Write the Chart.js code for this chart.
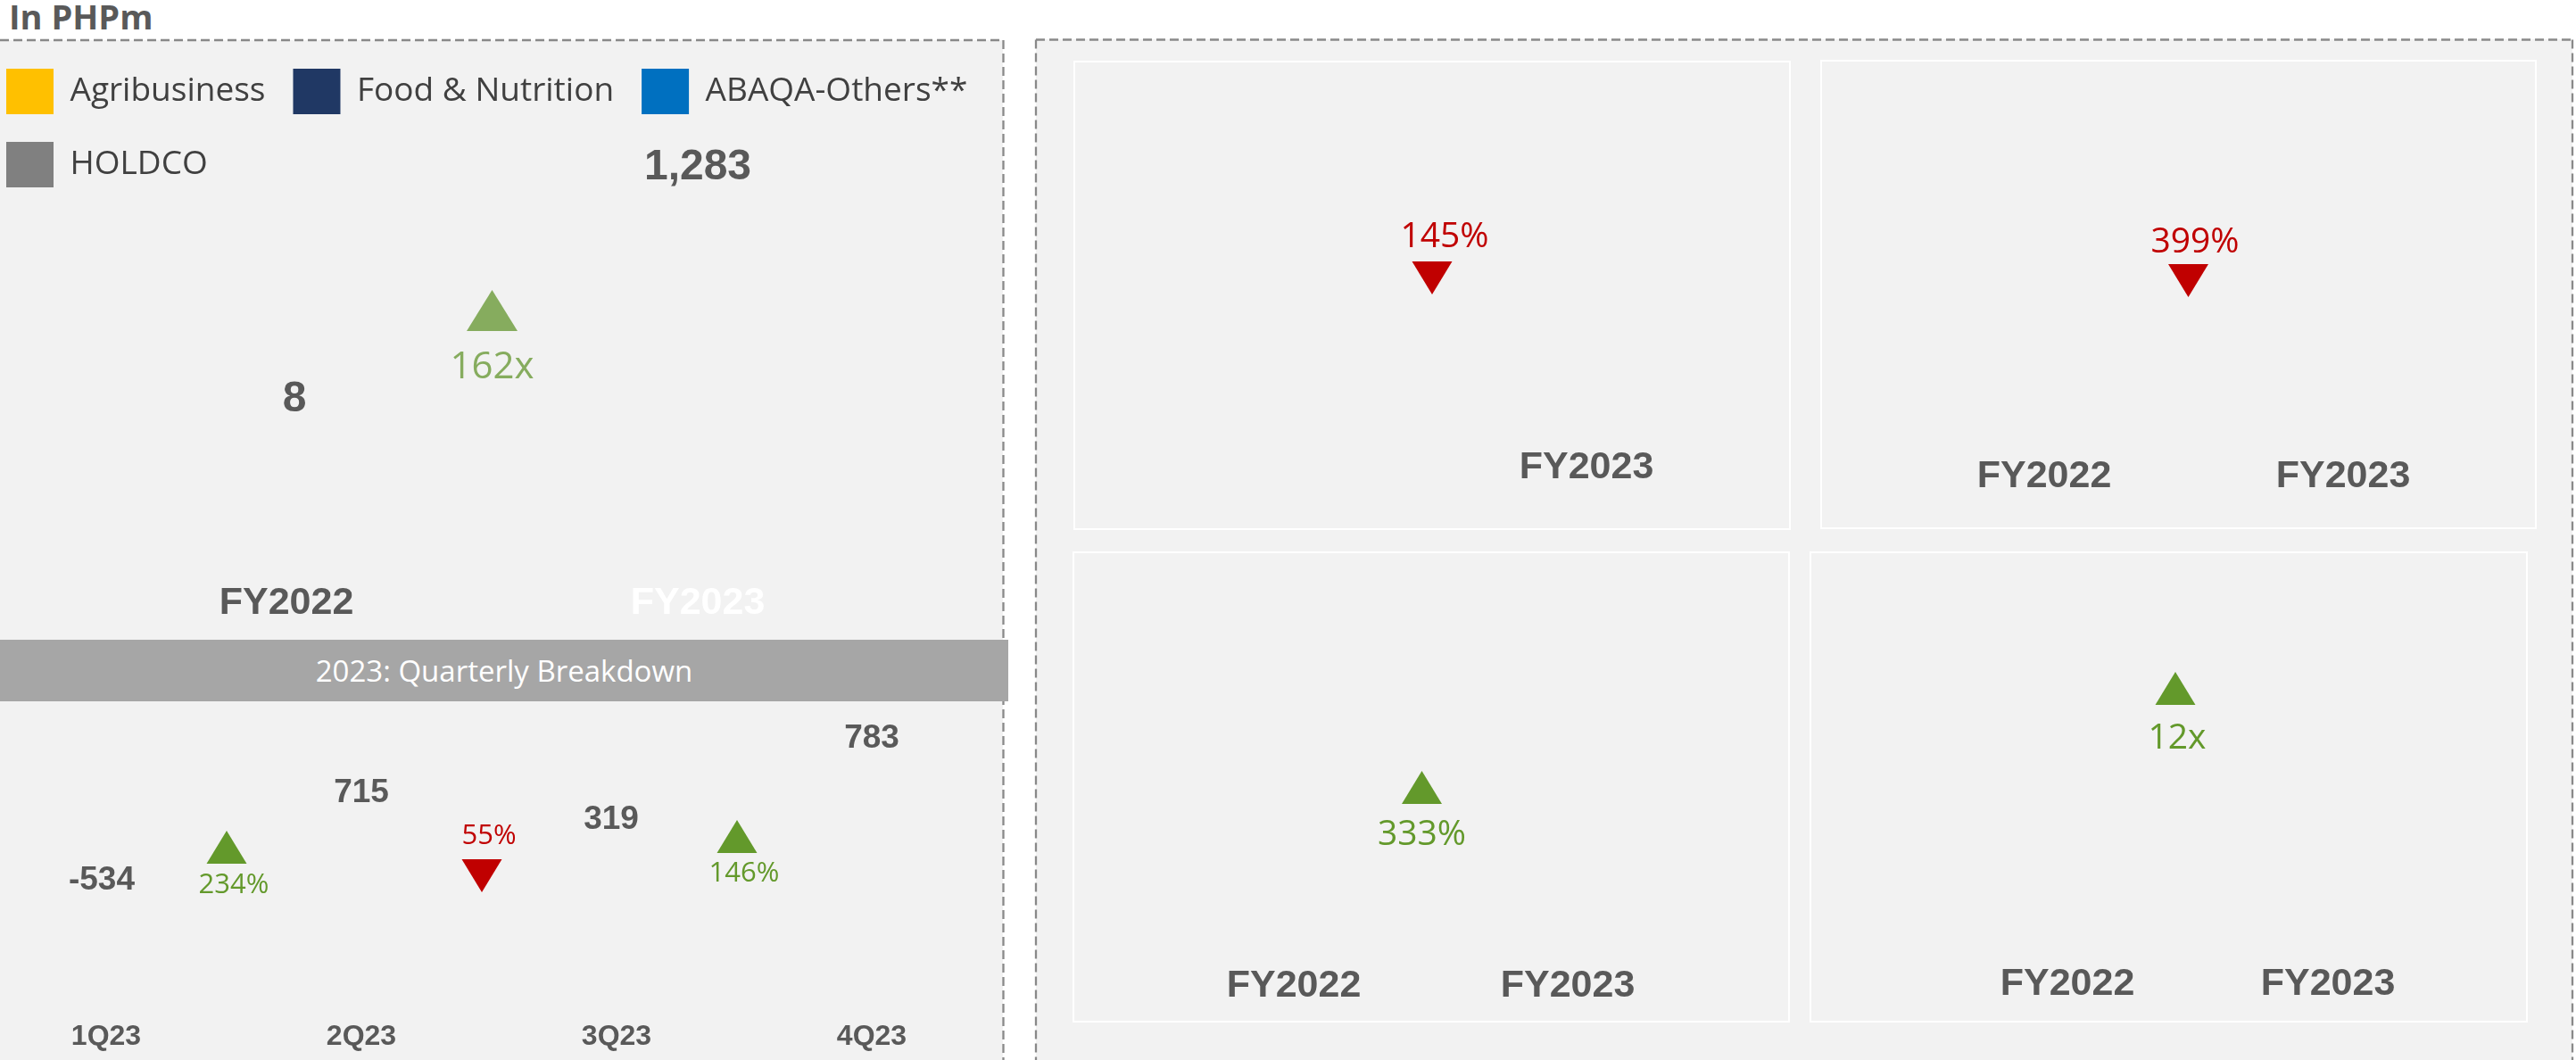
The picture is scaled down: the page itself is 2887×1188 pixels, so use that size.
<!DOCTYPE html>
<html>
<head>
<meta charset="utf-8">
<script src="https://cdn.jsdelivr.net/npm/chart.js@4.4.1/dist/chart.umd.min.js"></script>
<style>
  html, body { margin: 0; padding: 0; background: #ffffff; }
  body { width: 2887px; height: 1188px; position: relative; overflow: hidden; }
  .abs { position: absolute; }
  .fill { background: #f2f2f2; }
  .panel { position: absolute; outline: 2px solid #ffffff; outline-offset: -2px; }
  .title { left: 10px; top: -1px; font: bold 38px 'Open Sans', sans-serif; line-height: 38px; color: #595959; }
  .band { left: 0; top: 717px; width: 1130px; height: 69px; background: #a6a6a6; color: #ffffff;
          font: 33px 'Open Sans', sans-serif; display: flex; align-items: center; justify-content: center; }
</style>
</head>
<body>
<div class="abs title">In PHPm</div>
<div class="abs fill" style="left:0;top:45px;width:1124px;height:1143px"></div>
<div class="abs fill" style="left:1161px;top:44px;width:1722px;height:1144px"></div>
<svg class="abs" style="left:0;top:0" width="2887" height="1188">
  <g stroke="#898989" stroke-width="2.3" stroke-dasharray="10 5" fill="none">
    <line x1="0" y1="45" x2="1124.5" y2="45"/>
    <line x1="1124.5" y1="45" x2="1124.5" y2="1188"/>
    <line x1="1161" y1="44.5" x2="2883" y2="44.5"/>
    <line x1="1161" y1="44.5" x2="1161" y2="1188"/>
    <line x1="2883" y1="44.5" x2="2883" y2="1188"/>
  </g>
</svg>
<div class="abs band">2023: Quarterly Breakdown</div>
<div class="abs" style="left:-24px;top:46px;width:1174px;height:670px"><canvas id="mainChart"></canvas></div>
<div class="abs" style="left:0;top:786px;width:1124px;height:402px"><canvas id="quarterChart"></canvas></div>
<div class="panel" style="left:1203px;top:68px;width:804px;height:526px"><canvas id="seg0"></canvas></div>
<div class="panel" style="left:2040px;top:67px;width:803px;height:526px"><canvas id="seg1"></canvas></div>
<div class="panel" style="left:1202px;top:618px;width:804px;height:528px"><canvas id="seg2"></canvas></div>
<div class="panel" style="left:2028px;top:618px;width:805px;height:528px"><canvas id="seg3"></canvas></div>
<script>
// data
const fyLabels = ['FY2022', 'FY2023'];
const segmentNames = ['Agribusiness', 'Food & Nutrition', 'ABAQA-Others**', 'HOLDCO'];
const fyTotals = [8, 1283];
const fyChange = ['162x'];
const fyDirection = ['up'];
const quarterLabels = ['1Q23', '2Q23', '3Q23', '4Q23'];
const quarterValues = [-534, 715, 319, 783];
const quarterChanges = ['234%', '55%', '146%'];
const quarterDirections = ['up', 'down', 'up'];
const segmentChanges = ['145%', '399%', '333%', '12x'];
const segmentDirections = ['down', 'down', 'up', 'up'];

const segmentColors = ['#FFC000', '#203864', '#0070C0', '#808080'];
const GREY = '#595959', GREEN = '#63992B', RED = '#C00000';
const BOLD = "'Liberation Sans', Arial, sans-serif";
const OPEN = "'Open Sans', sans-serif";

Chart.defaults.animation = false;
Chart.defaults.responsive = true;
Chart.defaults.maintainAspectRatio = false;

function fmt(v) { return v.toLocaleString('en-US'); }

function triangle(ctx, cx, top, w, h, dir, color) {
    ctx.fillStyle = color;
    ctx.beginPath();
    if (dir === 'up') {
        ctx.moveTo(cx, top); ctx.lineTo(cx + w / 2, top + h); ctx.lineTo(cx - w / 2, top + h);
    } else {
        ctx.moveTo(cx - w / 2, top); ctx.lineTo(cx + w / 2, top); ctx.lineTo(cx, top + h);
    }
    ctx.closePath();
    ctx.fill();
}

// value labels and change arrows, placed on the x scale
const marks = {
    id: 'marks',
    afterDraw(chart, args, o) {
        const ctx = chart.ctx, x = chart.scales.x;
        ctx.save();
        ctx.textAlign = 'center';
        ctx.textBaseline = 'alphabetic';
        (o.values || []).forEach((v, i) => {
            ctx.font = 'bold ' + o.valueSize + 'px ' + BOLD;
            ctx.fillStyle = GREY;
            ctx.fillText(fmt(v), x.getPixelForValue(i) + (o.valueDx ? o.valueDx[i] : 0), o.valueY[i] + o.valueSize * 0.358);
        });
        (o.changes || []).forEach((c, i) => {
            const mid = (x.getPixelForValue(i) + x.getPixelForValue(i + 1)) / 2;
            const dir = o.dirs[i];
            const color = o.color || (dir === 'up' ? GREEN : RED);
            triangle(ctx, mid + o.triDx, o.triTop[i], o.triW, o.triH, dir, color);
            ctx.font = o.pctSize + 'px ' + OPEN;
            ctx.fillStyle = color;
            ctx.fillText(c, mid + o.textDx, o.textY[i] + o.pctSize * 0.357);
        });
        ctx.restore();
    }
};

function xAxis(labels, size, color, offset) {
    return {
        offset: offset,
        grid: { display: false, drawTicks: false },
        border: { display: false },
        ticks: { color: color, font: { family: BOLD, weight: 'bold', size: size }, padding: 3, maxRotation: 0, autoSkip: false }
    };
}

function spacer(pos, width) {
    return {
        position: pos, display: true,
        ticks: { display: false }, grid: { display: false }, border: { display: false },
        afterFit(s) { s.width = width; }
    };
}

// FY2022 vs FY2023 with legend
new Chart(document.getElementById('mainChart'), {
    type: 'bar',
    data: {
        labels: fyLabels,
        datasets: segmentNames.map((n, i) => ({
            label: n, data: fyLabels.map(() => null), backgroundColor: segmentColors[i], borderWidth: 0, stack: 'fy'
        }))
    },
    options: {
        layout: { padding: { bottom: 11 } },
        plugins: {
            tooltip: { enabled: false },
            legend: {
                position: 'top', align: 'start',
                labels: { boxWidth: 53, boxHeight: 51, padding: 31, color: '#404040', font: { family: OPEN, size: 37 } }
            },
            marks: {
                values: fyTotals, valueY: [398, 138], valueDx: [9, 0], valueSize: 48,
                changes: fyChange, dirs: fyDirection, color: '#86AC5E',
                triTop: [279], triW: 57, triH: 46, triDx: 0, textY: [363], textDx: 0, pctSize: 42
            }
        },
        scales: {
            x: xAxis(fyLabels, 43, c => c.index === 1 ? '#ffffff' : GREY, true),
            y: Object.assign(spacer('left', 114.5), { stacked: true }),
            yRight: spacer('right', 137.5)
        }
    },
    plugins: [marks]
});

// quarterly breakdown
new Chart(document.getElementById('quarterChart'), {
    type: 'bar',
    data: { labels: quarterLabels, datasets: [] },
    options: {
        layout: { padding: { left: 119, right: 147, bottom: 4 } },
        plugins: {
            legend: { display: false }, tooltip: { enabled: false },
            marks: {
                values: quarterValues, valueY: [198, 100, 130, 39], valueDx: [-5, 0, -6, 0], valueSize: 37,
                changes: quarterChanges, dirs: quarterDirections,
                triTop: [145, 177, 133], triW: 45, triH: 37, triDx: -8, textY: [204, 149, 191], textDx: 0, pctSize: 31
            }
        },
        scales: {
            x: xAxis(quarterLabels, 32, GREY, false),
            y: { display: false }
        }
    },
    plugins: [marks]
});

// per-segment panels
const panelLayout = [
    { padL: 89, padR: 67, padB: 41, triTop: 225, textY: 195, triDx: -11, textDx: 3, hideFirst: true },
    { padL: 83.5, padR: 49.5, padB: 30, triTop: 229, textY: 202, triDx: -6, textDx: 1.5 },
    { padL: 94.5, padR: 95.5, padB: 12, triTop: 246, textY: 315, triDx: -10, textDx: -10 },
    { padL: 143, padR: 78, padB: 14, triTop: 135, textY: 207, triDx: -25, textDx: -23 }
];

panelLayout.forEach((p, i) => {
    new Chart(document.getElementById('seg' + i), {
        type: 'bar',
        data: { labels: fyLabels, datasets: [] },
        options: {
            layout: { padding: { left: p.padL, right: p.padR, bottom: p.padB } },
            plugins: {
                legend: { display: false }, tooltip: { enabled: false },
                marks: {
                    changes: [segmentChanges[i]], dirs: [segmentDirections[i]],
                    triTop: [p.triTop], triW: 45, triH: 37, triDx: p.triDx,
                    textY: [p.textY], textDx: p.textDx, pctSize: 39
                }
            },
            scales: {
                x: xAxis(fyLabels, 43, c => (p.hideFirst && c.index === 0) ? 'rgba(0,0,0,0)' : GREY, true),
                y: { display: false }
            }
        },
        plugins: [marks]
    });
});
</script>
</body>
</html>
